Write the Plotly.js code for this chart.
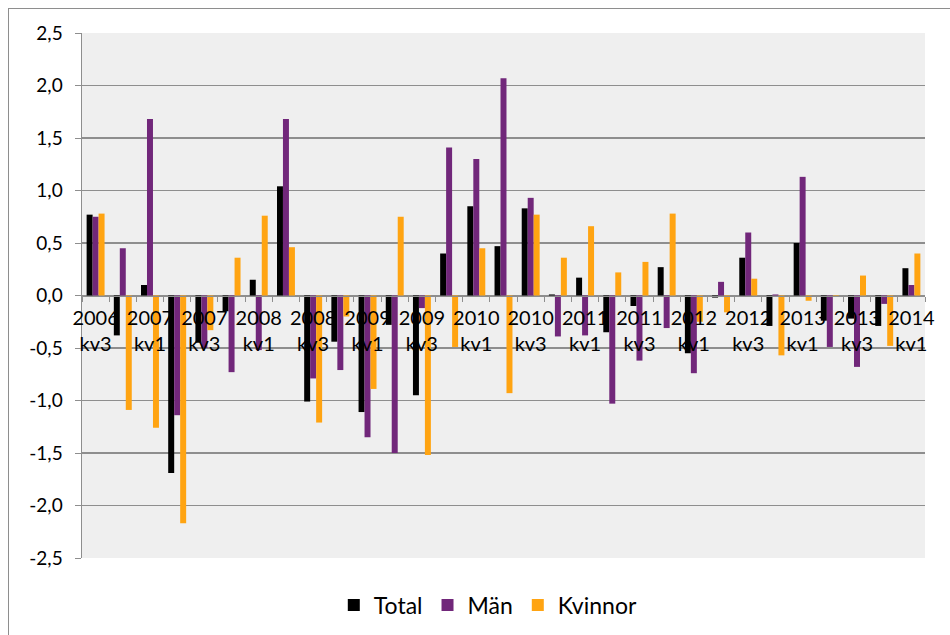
<!DOCTYPE html>
<html>
<head>
<meta charset="utf-8">
<script src="https://cdn.plot.ly/plotly-3.0.1.min.js"></script>
<style>
  html, body { margin: 0; padding: 0; background: #ffffff; }
  #wrap { position: relative; width: 950px; height: 635px; }
  #chart { position: absolute; left: 0; top: 0; width: 950px; height: 635px; }
  #frame { position: absolute; left: 8px; top: 8px; width: 960px; height: 640px;
           border-left: 1.5px solid #8e8e8e; border-top: 1.5px solid #8e8e8e; pointer-events: none; }
</style>
</head>
<body>
<div id="wrap">
  <div id="chart"></div>
  <div id="frame"></div>
</div>
<script>
// Quarters (categories)
const quarters = [
  '2006 kv3','2006 kv4',
  '2007 kv1','2007 kv2','2007 kv3','2007 kv4',
  '2008 kv1','2008 kv2','2008 kv3','2008 kv4',
  '2009 kv1','2009 kv2','2009 kv3','2009 kv4',
  '2010 kv1','2010 kv2','2010 kv3','2010 kv4',
  '2011 kv1','2011 kv2','2011 kv3','2011 kv4',
  '2012 kv1','2012 kv2','2012 kv3','2012 kv4',
  '2013 kv1','2013 kv2','2013 kv3','2013 kv4',
  '2014 kv1'
];

// Series values
const total = [0.77, -0.38, 0.10, -1.69, -0.45, -0.15, 0.15, 1.04, -1.01, -0.44,
               -1.11, -0.28, -0.95, 0.40, 0.85, 0.47, 0.83, 0.01, 0.17, -0.35,
               -0.10, 0.27, -0.55, -0.02, 0.36, -0.29, 0.50, -0.24, -0.22, -0.29, 0.26];
const man = [0.75, 0.45, 1.68, -1.14, -0.50, -0.73, -0.52, 1.68, -0.79, -0.71,
             -1.35, -1.50, -0.12, 1.41, 1.30, 2.07, 0.93, -0.39, -0.38, -1.03,
             -0.62, -0.31, -0.74, 0.13, 0.60, 0.01, 1.13, -0.49, -0.68, -0.08, 0.10];
const kvinnor = [0.78, -1.09, -1.26, -2.17, -0.33, 0.36, 0.76, 0.46, -1.21, -0.20,
                 -0.89, 0.75, -1.52, -0.49, 0.45, -0.93, 0.77, 0.36, 0.66, 0.22,
                 0.32, 0.78, -0.25, -0.16, 0.16, -0.57, -0.05, -0.01, 0.19, -0.48, 0.40];

const seriesNames = ['Total', 'Män', 'Kvinnor'];
const seriesColors = ['#000000', '#71277A', '#FFA412'];

// Y tick labels
const yTickVals = [-2.5, -2.0, -1.5, -1.0, -0.5, 0.0, 0.5, 1.0, 1.5, 2.0, 2.5];
const yTickText = ['-2,5', '-2,0', '-1,5', '-1,0', '-0,5', '0,0', '0,5', '1,0', '1,5', '2,0', '2,5'];

// X tick labels: every second quarter, two lines
const xTickText = quarters.map((q, i) => i % 2 === 0 ? q.replace(' ', '<br>') : '');

const FONT = 'Lato, "Open Sans", sans-serif';

const data = [total, man, kvinnor].map((vals, k) => ({
  type: 'bar',
  name: seriesNames[k],
  x: quarters,
  y: vals,
  marker: { color: seriesColors[k], line: { width: 0 } },
  hoverinfo: 'x+y+name'
}));

const layout = {
  width: 950,
  height: 635,
  margin: { l: 82, r: 25, t: 33, b: 77 },
  paper_bgcolor: '#ffffff',
  plot_bgcolor: '#EFEFEF',
  font: { family: FONT, color: '#000000', size: 18 },
  barmode: 'group',
  bargap: 0.34,
  bargroupgap: 0,
  showlegend: true,
  legend: {
    orientation: 'h',
    xref: 'container', yref: 'container',
    x: 0.514, xanchor: 'center',
    y: 0.047, yanchor: 'middle',
    font: { family: FONT, size: 23, color: '#000000' },
    itemwidth: 30,
    bgcolor: 'rgba(0,0,0,0)'
  },
  xaxis: {
    type: 'category',
    anchor: 'free',
    position: 0.5,
    showline: true,
    linecolor: '#8e8e8e',
    linewidth: 1.5,
    showgrid: false,
    zeroline: false,
    ticks: 'outside',
    tickson: 'boundaries',
    ticklen: 5,
    tickwidth: 1,
    tickcolor: '#8e8e8e',
    tickmode: 'array',
    tickvals: quarters,
    ticktext: xTickText,
    tickangle: 0,
    ticklabelstandoff: 4,
    tickfont: { family: FONT, size: 20, color: '#000000' },
    layer: 'above traces',
    automargin: false,
    fixedrange: true
  },
  yaxis: {
    range: [-2.5, 2.5],
    tickmode: 'array',
    tickvals: yTickVals,
    ticktext: yTickText,
    showgrid: true,
    gridcolor: '#8e8e8e',
    gridwidth: 1.5,
    zeroline: false,
    showline: true,
    linecolor: '#8e8e8e',
    linewidth: 1.5,
    ticks: 'outside',
    ticklen: 6,
    tickcolor: '#8e8e8e',
    ticklabelstandoff: 8,
    tickfont: { family: FONT, size: 19, color: '#000000' },
    automargin: false,
    fixedrange: true
  }
};

Plotly.newPlot('chart', data, layout, { displayModeBar: false, staticPlot: true });
</script>
</body>
</html>
